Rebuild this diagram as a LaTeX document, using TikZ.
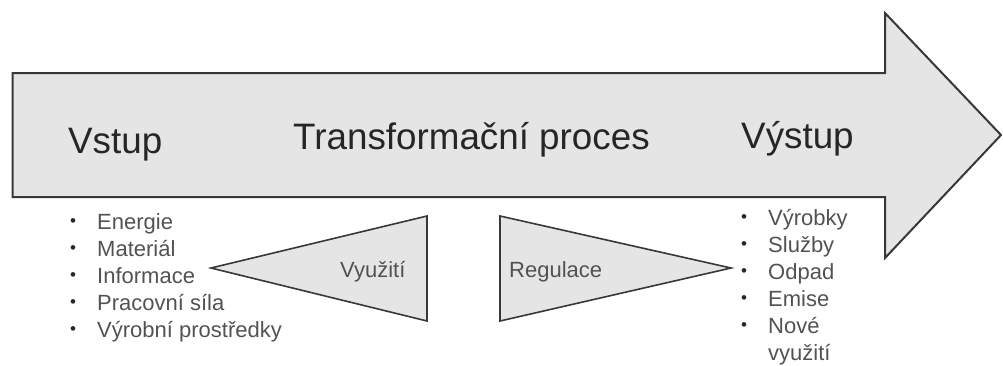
\documentclass[tikz,border=0pt]{standalone}
\usepackage{fontspec}
\setmainfont{Liberation Sans}
\begin{document}
\begin{tikzpicture}[x=1pt,y=-1pt,
  grayshape/.style={draw=black!78,fill=black!10,line join=miter},
  bigtext/.style={anchor=base west,inner sep=0pt,text=black!85,font=\fontsize{36.8}{40}\selectfont},
  smalltext/.style={anchor=base west,inner sep=0pt,text=black!68,font=\fontsize{22}{26}\selectfont},
  bulletmark/.style={anchor=base,inner sep=0pt,text=black!85,font=\fontsize{17}{20}\selectfont}]
\useasboundingbox (0,0) rectangle (1003,365);
% big arrow
\draw[grayshape,line width=2pt] (12.5,73) -- (885,73) -- (885,13) -- (1001,135) -- (885,258) -- (885,197) -- (12.5,197) -- cycle;
% triangles
\draw[grayshape,line width=1.6pt] (427,216) -- (427,321) -- (211,268) -- cycle;
\draw[grayshape,line width=1.6pt] (500,216) -- (500,321) -- (731,268) -- cycle;
% headings
\node[bigtext] (vstup) at (68,153) {Vstup};
\node[bigtext] (proces) at (293,149) {Transformační proces};
\node[bigtext] (vystup) at (741,148) {Výstup};
% triangle labels
\node[smalltext] (vyuziti) at (340,277) {Využití};
\node[smalltext] (regulace) at (509,277) {Regulace};
% input list
\foreach \t [count=\i] in {Energie,Materiál,Informace,Pracovní síla,Výrobní prostředky}{
  \node[bulletmark] (inb\i) at (73,{226+27*(\i-1)}) {•};
  \node[smalltext] (in\i) at (97,{229+27*(\i-1)}) {\t};
}
% output list
\foreach \t [count=\i] in {Výrobky,Služby,Odpad,Emise,Nové}{
  \node[bulletmark] (outb\i) at (744,{222+27*(\i-1)}) {•};
  \node[smalltext] (out\i) at (768,{225+27*(\i-1)}) {\t};
}
\node[smalltext] (out6) at (768,360) {využití};
\end{tikzpicture}
\end{document}
